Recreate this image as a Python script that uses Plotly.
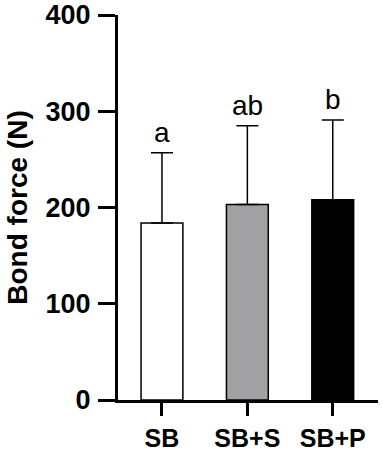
import plotly.graph_objects as go

categories = ["SB", "SB+S", "SB+P"]
means = [184, 203, 208]
sds = [73, 82, 83]
letters = ["a", "ab", "b"]
bar_colors = ["#ffffff", "#a2a2a5", "#000000"]
y_ticks = [0, 100, 200, 300, 400]

FONT = "Arial, Liberation Sans, sans-serif"

fig = go.Figure()
fig.add_trace(go.Bar(
    x=categories, y=means,
    marker=dict(color=bar_colors, line=dict(color="black", width=1.5)),
    width=0.49,
    error_y=dict(type="data", array=sds, arrayminus=[0, 0, 0], symmetric=False,
                 color="black", thickness=1.5, width=11),
    showlegend=False,
))

for c, m, s, l in zip(categories, means, sds, letters):
    fig.add_annotation(x=c, y=m + s, text=l, showarrow=False, yanchor="bottom",
                       yshift=3, font=dict(family=FONT, size=28, color="black"))

fig.update_layout(
    width=383, height=451,
    margin=dict(l=118, r=5, t=15, b=51),
    plot_bgcolor="white", paper_bgcolor="white",
    font=dict(family=FONT, color="black"),
    bargap=0.5,
)
fig.update_xaxes(
    range=[-0.515, 2.53], showline=True, linecolor="black", linewidth=3,
    ticks="outside", ticklen=13, tickwidth=3, tickcolor="black",
    tickfont=dict(family=FONT, size=25, color="black", weight="bold"),
    ticklabelstandoff=1, ticklabeloverflow="allow",
    showgrid=False, zeroline=False, automargin=False,
)
fig.update_yaxes(
    range=[0, 400], tickvals=y_ticks, showline=True, linecolor="black", linewidth=3,
    ticks="outside", ticklen=17, tickwidth=3, tickcolor="black",
    tickfont=dict(family=FONT, size=27, color="black", weight="bold"),
    ticklabelstandoff=2, ticklabeloverflow="allow",
    title=dict(text="Bond force (N)", font=dict(family=FONT, size=28, color="black", weight="bold"), standoff=10),
    showgrid=False, zeroline=False, automargin=False,
)

fig.write_html("out.html", config={"displayModeBar": False},
               post_script="document.body.style.margin='0';document.body.style.overflow='hidden';")
